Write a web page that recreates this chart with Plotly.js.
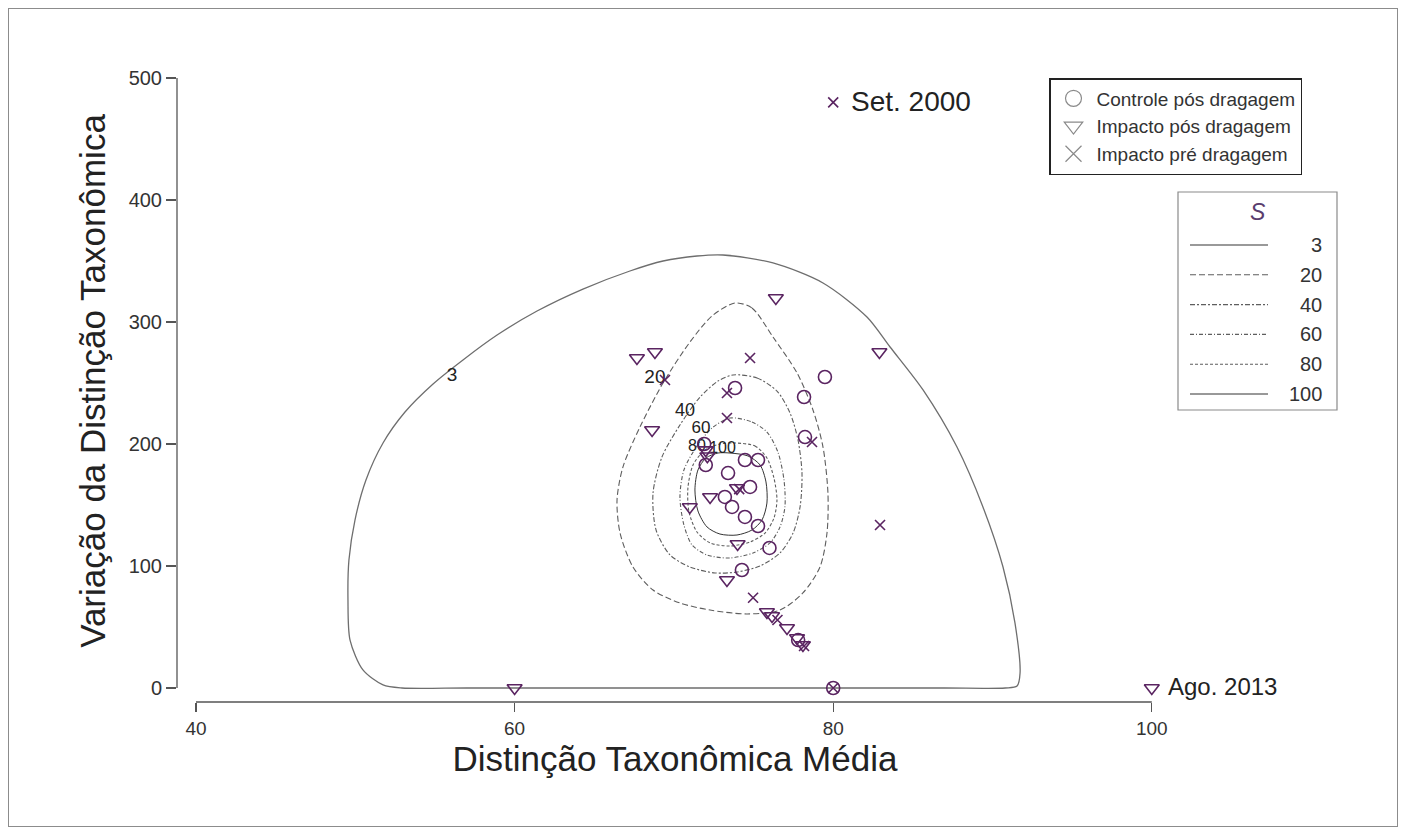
<!DOCTYPE html>
<html><head><meta charset="utf-8">
<script src="https://cdn.plot.ly/plotly-3.0.1.min.js"></script>
<style>
html,body{margin:0;padding:0;background:#fff}
#chart{width:1405px;height:832px}
#frame{position:absolute;left:8px;top:8px;width:1388px;height:817px;border:1px solid #8c8c8c;pointer-events:none}
</style>
</head><body>
<div id="chart"></div><div id="frame"></div>
<script>
// ---- data ----
const xTicks = [40, 60, 80, 100];
const yTicks = [0, 100, 200, 300, 400, 500];

const ctrlX = [73.84, 79.48, 78.17, 78.23, 74.46, 75.28, 73.40, 74.78, 73.20, 73.65, 74.46, 75.28, 76.00, 74.27, 72.00, 71.90, 77.80, 80.00];
const ctrlY = [245.9, 254.9, 238.5, 205.7, 186.9, 186.9, 176.2, 164.8, 156.6, 148.4, 140.2, 132.8, 114.8, 96.7, 182.8, 200.0, 39.3, 0];

const impPosX = [60, 100, 67.68, 68.81, 76.40, 82.90, 68.63, 72.00, 72.10, 71.00, 72.27, 73.96, 74.00, 73.33, 75.84, 76.16, 77.10, 77.73, 78.10];
const impPosY = [0, 0, 270.5, 275.4, 319.7, 275.4, 211.5, 195.0, 190.0, 148.4, 156.6, 163.9, 118.0, 88.5, 62.3, 59.0, 49.2, 41.0, 35.2];

const impPreX = [80, 74.78, 73.33, 69.44, 73.33, 78.67, 82.94, 74.97, 76.50, 78.17, 80, 74.10];
const impPreY = [480, 270.5, 241.8, 252.5, 221.3, 201.6, 133.6, 74.0, 55.7, 34.4, 0, 163.0];

const seriesNames = ['Controle pós dragagem', 'Impacto pós dragagem', 'Impacto pré dragagem'];

const levels = ['3', '20', '40', '60', '80', '100'];

const s3X = [70, 80, 87, 90.80, 91.54, 91.73, 91.41, 90.66, 89.40, 87.77, 85.64, 83.57, 82.12, 79.36, 76.22, 73.08, 71.45, 69.32, 67.24, 64.29, 61.41, 58.90, 56.76, 54.88, 53.12, 51.74, 50.67, 49.98, 49.60, 49.54, 49.67, 50.48, 51.74, 52.93, 57, 63, 70];
const s3Y = [0, 0, 0, 0, 1.6, 12.3, 53.3, 99.2, 148.4, 197.5, 244.3, 279.5, 304.1, 332.0, 348.4, 354.9, 354.1, 350.0, 341.8, 327.0, 309.0, 289.3, 268.9, 249.2, 226.2, 200.8, 170.5, 137.7, 104.9, 72.1, 39.3, 14.8, 2.5, 0, 0, 0, 0];

const s20X = [73.84, 74.90, 76.22, 77.73, 78.73, 79.36, 79.67, 79.61, 79.17, 78.10, 76.66, 74.59, 72.27, 70.38, 68.69, 67.43, 66.62, 66.43, 66.80, 67.87, 69.32, 71.01, 72.39, 73.84];
const s20Y = [315.6, 311.5, 287.7, 258.2, 227.9, 197.5, 159.8, 127.0, 99.2, 77.9, 63.9, 60.7, 63.9, 69.7, 80.3, 99.2, 127.0, 154.1, 181.1, 213.9, 250.0, 283.6, 304.9, 315.6];

const s40X = [73.71, 75.22, 76.47, 77.29, 77.79, 78.04, 77.92, 77.48, 76.66, 75.41, 73.96, 72.58, 71.01, 69.76, 68.88, 68.69, 69.25, 70.38, 71.64, 72.77, 73.71];
const s40Y = [256.6, 254.1, 243.4, 225.4, 203.3, 176.2, 148.4, 127.0, 110.7, 100.0, 95.1, 94.3, 99.2, 109.0, 129.5, 159.8, 189.3, 215.6, 238.5, 251.6, 256.6];

const s60X = [73.52, 74.90, 75.84, 76.53, 76.91, 76.97, 76.66, 76.03, 74.97, 73.52, 72.08, 71.14, 70.63, 70.38, 70.63, 71.45, 72.39, 73.52];
const s60Y = [221.3, 218.0, 209.8, 193.4, 170.5, 148.4, 132.0, 118.9, 110.7, 106.6, 109.0, 117.2, 133.6, 156.6, 178.7, 198.4, 213.1, 221.3];

const s80X = [73.84, 75.09, 75.84, 76.28, 76.47, 76.28, 75.72, 74.78, 73.52, 72.27, 71.45, 70.95, 70.88, 71.20, 71.95, 72.89, 73.84];
const s80Y = [200.8, 198.4, 188.5, 172.1, 154.1, 139.3, 127.0, 119.7, 116.4, 118.9, 127.9, 144.3, 163.9, 182.8, 195.1, 200.0, 200.8];

const s100X = [73.52, 74.65, 75.41, 75.78, 75.84, 75.53, 74.90, 73.96, 72.89, 72.08, 71.51, 71.32, 71.51, 72.01, 72.77, 73.52];
const s100Y = [192.6, 190.2, 182.8, 168.9, 151.6, 137.7, 129.5, 125.4, 126.2, 132.0, 145.1, 162.3, 178.7, 188.5, 192.6, 192.6];

// contour label anchors (data coords)
const labelX = [56.07, 68.81, 70.70, 71.70, 71.45, 73.05];
const labelY = [255.7, 254.1, 227.0, 212.6, 197.8, 195.5];

const noteText = ['Set. 2000', 'Ago. 2013'];
const noteX = [80, 100];
const noteY = [480, 0];

// ---- styles ----
const FONT = 'Arial, "Liberation Sans", Helvetica, sans-serif';
const PURPLE = '#5a2461';
const lineStyles = [
  {color: '#6e6e6e', width: 1.3, dash: 'solid'},
  {color: '#5e5e5e', width: 1.1, dash: '6px,3px'},
  {color: '#5e5e5e', width: 1.1, dash: '5px,2px,2px,2px'},
  {color: '#5e5e5e', width: 1.1, dash: '4px,2px,1px,2px'},
  {color: '#5e5e5e', width: 1.1, dash: '3px,2px'},
  {color: '#333333', width: 1.0, dash: 'solid'}
];
const labelSizes = [19, 19, 18, 17, 16, 16];
const contourX = [s3X, s20X, s40X, s60X, s80X, s100X];
const contourY = [s3Y, s20Y, s40Y, s60Y, s80Y, s100Y];

const traces = [];
contourX.forEach((cx, i) => {
  traces.push({
    type: 'scatter', mode: 'lines', x: cx, y: contourY[i],
    line: {color: lineStyles[i].color, width: lineStyles[i].width, dash: lineStyles[i].dash, shape: 'spline', smoothing: 0.8},
    showlegend: false, hoverinfo: 'skip'
  });
});

traces.push({
  type: 'scatter', mode: 'text', x: labelX, y: labelY, text: levels,
  textfont: {family: FONT, size: labelSizes, color: '#222'}, showlegend: false, cliponaxis: false, hoverinfo: 'skip'
});

const markerDefs = [
  {x: ctrlX, y: ctrlY, symbol: 'circle-open', size: 13},
  {x: impPosX, y: impPosY, symbol: 'triangle-down-open', size: 13},
  {x: impPreX, y: impPreY, symbol: 'x-thin-open', size: 10}
];
markerDefs.forEach(m => {
  traces.push({
    type: 'scatter', mode: 'markers', x: m.x, y: m.y,
    marker: {symbol: m.symbol, size: m.size, color: PURPLE, line: {width: 1.6, color: PURPLE}},
    showlegend: false, cliponaxis: false
  });
});

// legend entries (gray symbols as in the reference legend)
const legendSymbols = ['circle-open', 'triangle-down-open', 'x-thin-open'];
seriesNames.forEach((n, i) => {
  traces.push({
    type: 'scatter', mode: 'markers', x: [null], y: [null], name: n,
    marker: {symbol: legendSymbols[i], size: 16, color: '#8a8a8a', line: {width: 1.2, color: '#8a8a8a'}},
    showlegend: true
  });
});

// plot area geometry
const L = 177, R = 1173, T = 60, B = 702;
const W = R - L, H = B - T;
const px2x = p => (p - L) / W;
const px2y = p => (B - p) / H;

const shapes = [
  {type: 'line', xref: 'x', yref: 'paper', x0: xTicks[0], x1: xTicks[xTicks.length - 1], y0: 0, y1: 0, line: {color: '#555', width: 1.3}},
  {type: 'line', xref: 'paper', yref: 'y', x0: 0, x1: 0, y0: yTicks[0], y1: yTicks[yTicks.length - 1], line: {color: '#555', width: 1.3}},
  {type: 'rect', xref: 'paper', yref: 'paper', x0: px2x(1178), x1: px2x(1337), y0: px2y(410), y1: px2y(192), line: {color: '#8a8a8a', width: 1.2}, fillcolor: 'rgba(0,0,0,0)'}
];
const annotations = [
  {xref: 'paper', yref: 'paper', x: px2x(1258), y: px2y(212), text: '<i>S</i>', showarrow: false,
   font: {family: FONT, size: 23, color: '#5a3d6e'}, xanchor: 'center', yanchor: 'middle'}
];
levels.forEach((lv, i) => {
  const yy = px2y(245 + i * 29.8);
  shapes.push({type: 'line', xref: 'paper', yref: 'paper', x0: px2x(1190), x1: px2x(1268), y0: yy, y1: yy,
    line: {color: i === 0 ? '#999' : lineStyles[i].color, width: i === 0 ? 2 : lineStyles[i].width, dash: lineStyles[i].dash}});
  annotations.push({xref: 'paper', yref: 'paper', x: px2x(1324), y: yy, text: lv, showarrow: false,
    font: {family: FONT, size: 20, color: '#333'}, xanchor: 'right', yanchor: 'middle'});
});
const noteSizes = [28, 24];
noteText.forEach((t, i) => {
  annotations.push({xref: 'x', yref: 'y', x: noteX[i], y: noteY[i], text: t, showarrow: false,
    xanchor: 'left', yanchor: 'middle', xshift: i === 0 ? 16 : 14, yshift: i === 0 ? 1 : 2,
    font: {family: FONT, size: noteSizes[i], color: '#222'}});
});

const layout = {
  width: 1405, height: 832,
  margin: {l: L, r: 1405 - R, t: T, b: 832 - B, pad: 0},
  paper_bgcolor: '#fff', plot_bgcolor: 'rgba(0,0,0,0)',
  font: {family: FONT, color: '#333'},
  xaxis: {
    range: [40 - 19 / 15.93, 40 + 977 / 15.93], tickvals: xTicks, ticktext: xTicks.map(String),
    showgrid: false, zeroline: false, showline: false, ticks: 'outside', ticklen: 9, tickcolor: '#555', tickwidth: 1.2,
    tickfont: {family: FONT, size: 19, color: '#333'},
    title: {text: 'Distinção Taxonômica Média', font: {family: FONT, size: 35, color: '#222'}, standoff: 8},
    automargin: false, fixedrange: true
  },
  yaxis: {
    range: [-14 / 1.22, 628 / 1.22], tickvals: yTicks, ticktext: yTicks.map(String),
    showgrid: false, zeroline: false, showline: false, ticks: 'outside', ticklen: 10, tickcolor: '#555', tickwidth: 1.2,
    tickfont: {family: FONT, size: 20, color: '#333'},
    title: {text: 'Variação da Distinção Taxonômica', font: {family: FONT, size: 35, color: '#222'}, standoff: 12},
    automargin: false, fixedrange: true
  },
  legend: {
    x: px2x(1049), y: px2y(78), xanchor: 'left', yanchor: 'top',
    bgcolor: '#fff', bordercolor: '#222', borderwidth: 1.5, itemwidth: 36,
    font: {family: FONT, size: 19, color: '#333'}, tracegroupgap: 0, itemclick: false, itemdoubleclick: false
  },
  shapes: shapes, annotations: annotations, hovermode: false
};

Plotly.newPlot('chart', traces, layout, {displayModeBar: false, staticPlot: true});
</script>
</body></html>
